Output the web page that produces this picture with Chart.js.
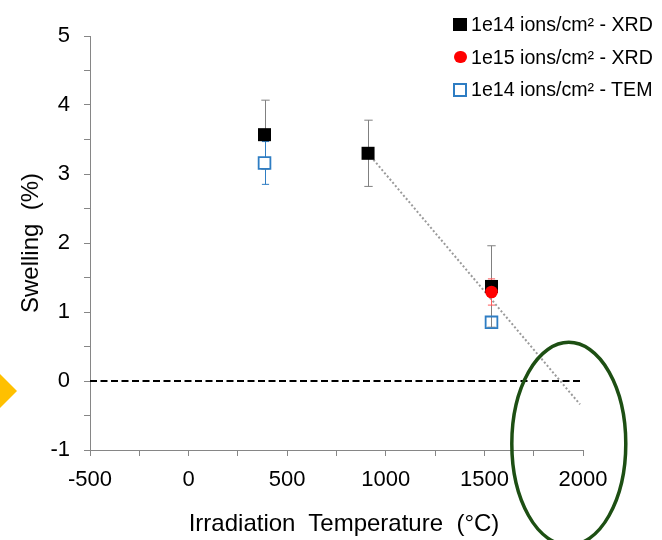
<!DOCTYPE html>
<html>
<head>
<meta charset="utf-8">
<script src="https://cdn.jsdelivr.net/npm/chart.js@4.4.1/dist/chart.umd.min.js"></script>
<style>
  body { margin: 0; background: #fff; }
  #wrap { position: relative; width: 662px; height: 540px; overflow: hidden; background: #fff;
          font-family: "Liberation Sans", Arial, sans-serif; color: #000; }
  #c { position: absolute; left: 0; top: 0; }
  .leg { position: absolute; left: 471px; font-size: 19.6px; line-height: 22px; height: 22px; white-space: nowrap; }
  .mk { position: absolute; box-sizing: border-box; }
  .ytitle { position: absolute; left: 30px; top: 243px; font-size: 24px; white-space: pre;
            transform: translate(-50%, -50%) rotate(-90deg); }
  .xtitle { position: absolute; left: 344px; top: 523px; font-size: 24px; white-space: pre;
            transform: translate(-50%, -50%); }
</style>
</head>
<body>
<div id="wrap">
  <canvas id="c" width="662" height="540"></canvas>
  <div class="mk" style="left:453px;top:17.5px;width:13.5px;height:13.5px;background:#000;"></div>
  <div class="leg" style="top:13px;">1e14 ions/cm² - XRD</div>
  <div class="mk" style="left:454px;top:50.5px;width:12.5px;height:12.5px;border-radius:50%;background:#ff0000;"></div>
  <div class="leg" style="top:45.7px;">1e15 ions/cm² - XRD</div>
  <div class="mk" style="left:453px;top:83px;width:13.5px;height:13.5px;border:2px solid #2e7dc3;background:#fff;"></div>
  <div class="leg" style="top:78.3px;">1e14 ions/cm² - TEM</div>
  <div class="ytitle">Swelling  (%)</div>
  <div class="xtitle">Irradiation  Temperature  (°C)</div>
</div>
<script>
// ---- data ----
const tempsXRD14 = [385, 910, 1536];
const swellXRD14 = [3.57, 3.30, 1.37];
const errXRD14   = [0.50, 0.48, 0.59];

const tempsXRD15 = [1536];
const swellXRD15 = [1.29];
const errXRD15   = [0.19];

const tempsTEM14 = [385, 1536];
const swellTEM14 = [3.16, 0.85];
const errTEM14   = [0.31, 0];

const trendX = [910, 1985];
const trendY = [3.30, -0.34];

const zeroX = [-500, 2000];
const zeroY = [0, 0];

const xMin = -500, xMax = 2000, xStep = 250, xLabelStep = 500;
const yMin = -1, yMax = 5, yStep = 0.5, yLabelStep = 1;

// annotation (data coordinates)
const ellipseCenter = [1928, -0.91];
const ellipseRadius = [289, 1.47];

const toPts = (xs, ys) => xs.map((x, i) => ({ x: x, y: ys[i] }));

const errorSets = [
  { xs: tempsXRD14, ys: swellXRD14, es: errXRD14, color: '#808080', cap: 4.2 },
  { xs: tempsXRD15, ys: swellXRD15, es: errXRD15, color: '#ff5a5a', cap: 3.6 },
  { xs: tempsTEM14, ys: swellTEM14, es: errTEM14, color: '#2e7dc3', cap: 3.6 }
];

const errorBarPlugin = {
  id: 'errorBars',
  beforeDatasetsDraw(chart) {
    const ctx = chart.ctx, xs = chart.scales.x, ys = chart.scales.y;
    ctx.save();
    ctx.lineWidth = 1;
    errorSets.forEach(s => {
      ctx.strokeStyle = s.color;
      s.xs.forEach((x, i) => {
        const e = s.es[i];
        if (!e) return;
        const px = Math.round(xs.getPixelForValue(x)) + 0.5;
        const pTop = ys.getPixelForValue(s.ys[i] + e);
        const pBot = ys.getPixelForValue(s.ys[i] - e);
        ctx.beginPath();
        ctx.moveTo(px, pTop); ctx.lineTo(px, pBot);
        ctx.moveTo(px - s.cap, pTop); ctx.lineTo(px + s.cap, pTop);
        ctx.moveTo(px - s.cap, pBot); ctx.lineTo(px + s.cap, pBot);
        ctx.stroke();
      });
    });
    ctx.restore();
  }
};

const annotationPlugin = {
  id: 'annotations',
  afterDraw(chart) {
    const ctx = chart.ctx, xs = chart.scales.x, ys = chart.scales.y;
    ctx.save();
    // green ellipse
    const cx = xs.getPixelForValue(ellipseCenter[0]);
    const cy = ys.getPixelForValue(ellipseCenter[1]);
    const rx = Math.abs(xs.getPixelForValue(ellipseCenter[0] + ellipseRadius[0]) - cx);
    const ry = Math.abs(ys.getPixelForValue(ellipseCenter[1] + ellipseRadius[1]) - cy);
    ctx.beginPath();
    ctx.ellipse(cx, cy, rx, ry, 0, 0, Math.PI * 2);
    ctx.lineWidth = 3.5;
    ctx.strokeStyle = '#1d4f13';
    ctx.stroke();
    // yellow arrow tip on the left edge
    ctx.beginPath();
    ctx.moveTo(-1, 373);
    ctx.lineTo(17, 391);
    ctx.lineTo(-1, 409);
    ctx.closePath();
    ctx.fillStyle = '#ffc000';
    ctx.fill();
    ctx.restore();
  }
};

const axisColor = '#868686';
const tickFont = { family: '"Liberation Sans", Arial, sans-serif', size: 22 };

new Chart(document.getElementById('c'), {
  type: 'scatter',
  data: {
    datasets: [
      {
        label: 'zero', type: 'line', data: toPts(zeroX, zeroY), order: 10,
        borderColor: '#000', borderWidth: 2, borderDash: [7, 3.5], pointRadius: 0, fill: false
      },
      {
        label: 'trend', type: 'line', data: toPts(trendX, trendY), order: 9,
        borderColor: '#9a9a9a', borderWidth: 2, borderDash: [2, 2.2], pointRadius: 0, fill: false
      },
      {
        label: '1e14 ions/cm² - XRD', data: toPts(tempsXRD14, swellXRD14), order: 3,
        pointStyle: 'rect', pointRadius: 9.2, pointHoverRadius: 9.2,
        backgroundColor: '#000', borderColor: '#000', borderWidth: 0
      },
      {
        label: '1e15 ions/cm² - XRD', data: toPts(tempsXRD15, swellXRD15), order: 2,
        pointStyle: 'circle', pointRadius: 6.3, pointHoverRadius: 6.3,
        backgroundColor: '#ff0000', borderColor: '#ff0000', borderWidth: 0
      },
      {
        label: '1e14 ions/cm² - TEM', data: toPts(tempsTEM14, swellTEM14), order: 1,
        pointStyle: 'rect', pointRadius: 8.3, pointHoverRadius: 8.3,
        backgroundColor: ['#ffffff', 'rgba(255,255,255,0)'], borderColor: '#2e7dc3', borderWidth: 1.8
      }
    ]
  },
  options: {
    responsive: false,
    animation: false,
    devicePixelRatio: 1,
    layout: { padding: { top: 36, right: 79, left: 0, bottom: 0 } },
    plugins: {
      legend: { display: false },
      tooltip: { enabled: false },
      title: { display: false }
    },
    scales: {
      x: {
        type: 'linear', min: xMin, max: xMax,
        afterFit: s => { s.height = 90; },
        ticks: {
          stepSize: xStep, autoSkip: false, maxRotation: 0, color: '#000', font: tickFont, padding: 11,
          callback: v => (v % xLabelStep === 0 ? String(v) : '')
        },
        grid: { drawOnChartArea: false, drawTicks: true, tickLength: 6, color: axisColor },
        border: { color: axisColor, width: 1 }
      },
      y: {
        type: 'linear', min: yMin, max: yMax,
        afterFit: s => { s.width = 90; },
        ticks: {
          stepSize: yStep, autoSkip: false, color: '#000', font: tickFont, padding: 14,
          callback: v => (v % yLabelStep === 0 ? String(v) : '')
        },
        grid: { drawOnChartArea: false, drawTicks: true, tickLength: 6, color: axisColor },
        border: { color: axisColor, width: 1 }
      }
    }
  },
  plugins: [errorBarPlugin, annotationPlugin]
});
</script>
</body>
</html>
